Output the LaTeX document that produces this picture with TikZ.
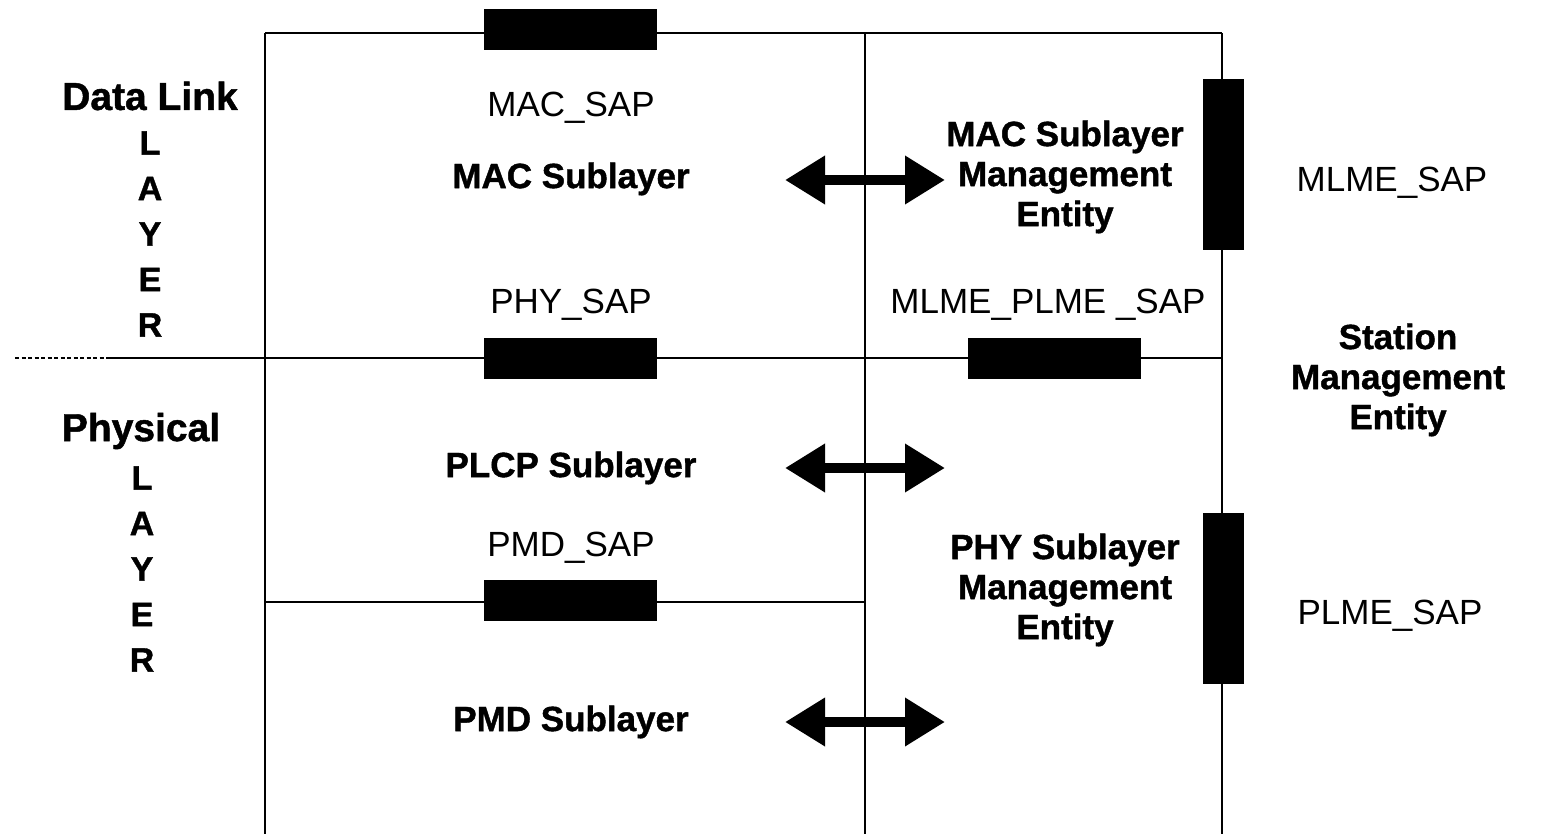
\documentclass[tikz,border=0pt]{standalone}
\usepackage{fontspec}
\setmainfont{Liberation Sans}[BoldFeatures={FakeBold=1.2}]
\usetikzlibrary{arrows.meta}
\begin{document}
\begin{tikzpicture}[x=1pt,y=-1pt,
  outer/.style={line width=2.8pt},
  innerline/.style={line width=1.8pt},
  sapbox/.style={fill=black, draw=none, inner sep=0},
  hsap/.style={sapbox, minimum width=173, minimum height=41},
  vsap/.style={sapbox, minimum width=41, minimum height=171},
  lbl/.style={font=\fontsize{35}{40}\selectfont, inner sep=0, align=center},
  blbl/.style={font=\fontsize{35}{40}\selectfont\bfseries, inner sep=0, align=center},
  big/.style={font=\fontsize{39}{45}\selectfont\bfseries, inner sep=0, align=center},
  vert/.style={font=\fontsize{34}{45.5}\selectfont\bfseries, inner sep=0, align=center},
  dblarr/.style={line width=10pt, {Triangle[length={40pt 0}, width={46pt 0}]}-{Triangle[length={40pt 0}, width={46pt 0}]}},
]
\useasboundingbox (0,0) rectangle (1541,834);
% frame coordinates
\coordinate (tl) at (265,33);
\coordinate (tm) at (865,33);
\coordinate (tr) at (1222,33);
\coordinate (bl) at (265,834);
\coordinate (bm) at (865,834);
\coordinate (br) at (1222,834);
\coordinate (dstart) at (15,358);
\coordinate (dend) at (110,358);
\coordinate (hr) at (1222,358);
\coordinate (pl) at (265,602);
\coordinate (pr) at (865,602);
% lines
\draw[outer] (tl) -- (tr);
\draw[outer] (tl) -- (bl);
\draw[innerline] (tm) -- (bm);
\draw[innerline] (tr) -- (br);
\draw[innerline] (dend) -- (hr);
\draw[line width=1.3pt, dash pattern=on 4pt off 2.5pt] (dstart) -- (dend);
\draw[innerline] (pl) -- (pr);
% SAP boxes
\node[hsap] (macsapbox) at (570.5,30) {};
\node[hsap] (physapbox) at (570.5,358) {};
\node[hsap] (mpsapbox) at (1054,358) {};
\node[hsap] (pmdsapbox) at (570.5,600) {};
\node[vsap] (mlmesapbox) at (1223,165) {};
\node[vsap] (plmesapbox) at (1223,598) {};
% left labels
\node[big] (dl) at (150,96) {Data Link};
\node[vert] (dllayer) at (150,234) {L\\A\\Y\\E\\R};
\node[big] (ph) at (141,431) {Physical};
\node[vert] (phlayer) at (142,569) {L\\A\\Y\\E\\R};
% SAP labels
\node[lbl] (macsap) at (571,108) {MAC\_SAP};
\node[lbl] (physap) at (571,305) {PHY\_SAP};
\node[lbl] (pmdsap) at (571,548) {PMD\_SAP};
\node[lbl] (mpsap) at (1048,305) {MLME\_PLME \_SAP};
\node[lbl] (mlmesap) at (1392,183) {MLME\_SAP};
\node[lbl] (plmesap) at (1390,616) {PLME\_SAP};
% sublayers
\node[blbl] (macsub) at (571,179) {MAC Sublayer};
\node[blbl] (plcpsub) at (571,468) {PLCP Sublayer};
\node[blbl] (pmdsub) at (571,722) {PMD Sublayer};
\node[blbl] (mlme) at (1065,177) {MAC Sublayer\\Management\\Entity};
\node[blbl] (plme) at (1065,590) {PHY Sublayer\\Management\\Entity};
\node[blbl] (sme) at (1398,380) {Station\\Management\\Entity};
% arrows
\coordinate (a1l) at (785,180);
\coordinate (a1r) at (945,180);
\coordinate (a2l) at (785,468);
\coordinate (a2r) at (945,468);
\coordinate (a3l) at (785,722);
\coordinate (a3r) at (945,722);
\draw[dblarr] (a1l) -- (a1r);
\draw[dblarr] (a2l) -- (a2r);
\draw[dblarr] (a3l) -- (a3r);
\end{tikzpicture}
\end{document}
